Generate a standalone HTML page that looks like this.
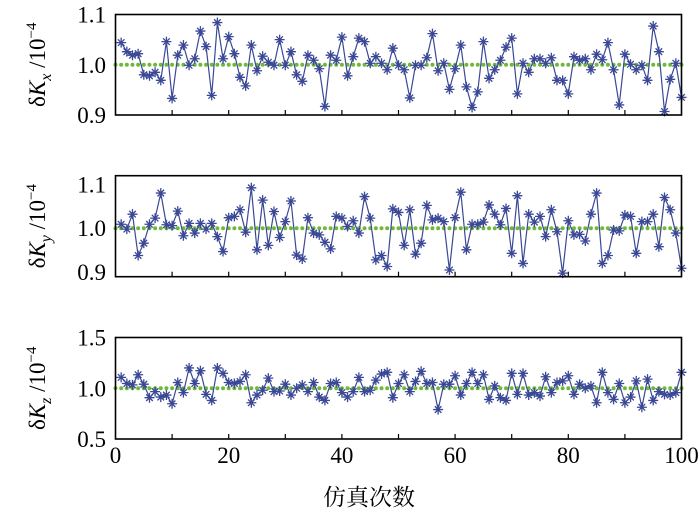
<!DOCTYPE html>
<html><head><meta charset="utf-8"><style>
html,body{margin:0;padding:0;background:#fff;}
svg{display:block;font-family:"Liberation Serif","Noto Serif CJK SC",serif;}
</style></head><body>
<svg id="chart" width="700" height="513" viewBox="0 0 700 513" xmlns="http://www.w3.org/2000/svg"></svg>
<script>
const runs = Array.from({length:100},(_,i)=>i+1);
const xTicks = [0,20,40,60,80,100];
const refValue = 1.0;
const kxValues = [1.044,1.026,1.019,1.022,0.980,0.978,0.985,0.969,1.046,0.933,1.019,1.039,0.999,1.012,1.067,1.036,0.939,1.084,1.012,1.056,1.022,0.975,0.958,1.039,0.988,1.017,1.005,0.999,1.050,0.999,1.026,0.980,0.967,1.019,1.009,0.992,0.917,1.019,1.009,1.055,0.978,1.016,1.053,1.046,1.003,1.016,1.003,0.990,1.033,0.999,
0.990,0.934,0.999,0.999,1.014,1.062,0.988,1.003,0.951,0.992,1.039,0.956,0.915,0.946,1.046,0.973,0.990,1.009,1.035,1.053,
0.942,1.003,0.985,1.012,1.012,1.003,1.014,0.969,0.969,0.942,1.016,1.009,1.012,0.990,1.021,1.010,1.044,0.990,0.920,1.021,1.001,0.990,0.999,0.969,1.077,1.026,0.907,0.971,1.003,0.935];
const kyValues = [1.009,0.998,1.032,0.938,0.966,1.009,1.023,1.080,1.008,1.006,1.039,0.983,1.011,0.989,1.011,0.998,1.011,0.981,0.947,1.024,1.027,1.042,0.991,1.092,0.951,1.064,0.961,1.038,0.979,1.015,1.062,0.939,0.930,1.024,0.989,0.985,0.968,0.953,1.027,1.023,1.004,1.017,0.989,1.072,1.023,0.928,0.938,0.913,1.044,1.036,
0.961,1.042,0.941,0.966,1.052,1.019,1.023,1.015,0.905,1.024,1.082,0.951,1.009,1.009,1.014,1.053,1.032,1.008,1.045,0.943,1.074,0.920,1.032,1.014,1.027,0.981,1.042,0.992,0.898,1.017,0.985,0.986,0.971,1.032,1.080,0.920,0.938,0.996,0.994,1.030,1.027,0.943,1.015,1.015,1.032,0.958,1.070,1.042,0.989,0.909];
const kzValues = [1.107,1.047,1.033,1.133,1.040,0.907,0.967,0.913,0.933,0.847,1.057,0.957,1.200,1.047,1.173,0.940,0.880,1.200,1.147,1.057,1.047,1.067,1.133,0.857,0.933,0.980,1.100,0.967,0.973,1.040,0.933,1.000,1.033,0.967,1.057,0.913,0.880,1.047,1.057,0.957,0.913,0.967,1.107,0.967,0.980,1.080,1.140,1.157,0.907,1.047,
1.133,0.967,1.067,1.167,1.047,1.057,0.790,1.040,1.040,1.123,0.933,1.047,1.157,1.047,1.133,0.890,1.023,0.907,0.880,1.147,0.940,1.147,0.933,0.957,0.923,1.113,0.957,1.057,1.073,1.123,0.940,1.040,1.000,1.023,0.857,1.157,0.957,0.890,1.047,0.857,0.913,1.073,0.813,1.090,0.880,0.967,0.940,0.933,0.957,1.157];
const kxTicks = ["0.9","1.0","1.1"], kxTickVals=[0.9,1.0,1.1];
const kyTicks = ["0.9","1.0","1.1"], kyTickVals=[0.9,1.0,1.1];
const kzTicks = ["0.5","1.0","1.5"], kzTickVals=[0.5,1.0,1.5];

const NS="http://www.w3.org/2000/svg";
const svg=document.getElementById('chart');
function mk(t,a,p){const e=document.createElementNS(NS,t);for(const k in a)e.setAttribute(k,a[k]);(p||svg).appendChild(e);return e;}
const X0=115.5,X1=681.5;
const xScale=v=>X0+(v-0)/(100-0)*(X1-X0);
const BLUE="#3a4896", GREEN="#6fb83a";

function panel(name,top,bot,ymin,ymax,vals,tickLabels,tickVals,sub,showX){
  const g=mk('g',{});
  
  
  const ys=v=>bot-(v-ymin)/(ymax-ymin)*(bot-top);
  // ref dotted line
  const ref=mk('g',{},g);
  
  
  for(let i=0;i<=100;i++){
    const c=mk('circle',{cx:xScale(i),cy:ys(refValue),r:2,fill:GREEN},ref);
  }
  // series line
  const pts=runs.map((r,i)=>xScale(r).toFixed(1)+','+ys(vals[i]).toFixed(1)).join(' ');
  const pl=mk('polyline',{points:pts,fill:'none',stroke:BLUE,'stroke-width':1.2},g);
  
  
  runs.forEach((r,i)=>{
    const cx=xScale(r),cy=ys(vals[i]);
    const m=mk('path',{d:`M${cx-5} ${cy}H${cx+5}M${cx} ${cy-5}V${cy+5}M${cx-3.3} ${cy-3.3}L${cx+3.3} ${cy+3.3}M${cx-3.3} ${cy+3.3}L${cx+3.3} ${cy-3.3}`,stroke:BLUE,'stroke-width':1.3,fill:'none'},g);
    
    
  });
  // box
  const b=mk('rect',{x:X0,y:top,width:X1-X0,height:bot-top,fill:'none',stroke:'#000','stroke-width':1.6},g);
  
  
  // x ticks
  for(let t=10;t<100;t+=10){
    mk('line',{x1:xScale(t),x2:xScale(t),y1:bot,y2:bot-5,stroke:'#000','stroke-width':1.2},g);
  }
  tickVals.forEach((tv,i)=>{
    const tx=mk('text',{x:106,y:ys(tv)+8,'text-anchor':'end','font-size':23,fill:'#000'},g);
    tx.textContent=tickLabels[i];
    
    
  });
  const cy=(top+bot)/2;
  const tt=mk('text',{transform:`translate(45,${cy}) rotate(-90)`,'text-anchor':'middle','font-size':23,fill:'#000'},g);
  tt.innerHTML='δ<tspan font-style="italic">K</tspan><tspan font-style="italic" font-size="16" dy="6">'+sub+'</tspan><tspan dy="-6"> /10</tspan><tspan font-size="15" dy="-9">−4</tspan>';
  
  
  if(showX){
    xTicks.forEach(t=>{
      const l=mk('text',{x:xScale(t),y:bot+24,'text-anchor':'middle','font-size':23,fill:'#000'},g);
      l.textContent=t;
      
      
    });
  }
}
panel('kx',14.5,115,0.9,1.1,kxValues,kxTicks,kxTickVals,'x',false);
panel('ky',175.7,276.7,0.8898,1.1195,kyValues,kyTicks,kyTickVals,'y',false);
panel('kz',337.5,439,0.5,1.5,kzValues,kzTicks,kzTickVals,'z',true);
const xt=mk('text',{x:369,y:505,'text-anchor':'middle','font-size':23,fill:'#000','font-family':'"Noto Serif CJK SC","Noto Sans CJK SC",serif'});
xt.textContent='仿真次数';


</script>
</body></html>
